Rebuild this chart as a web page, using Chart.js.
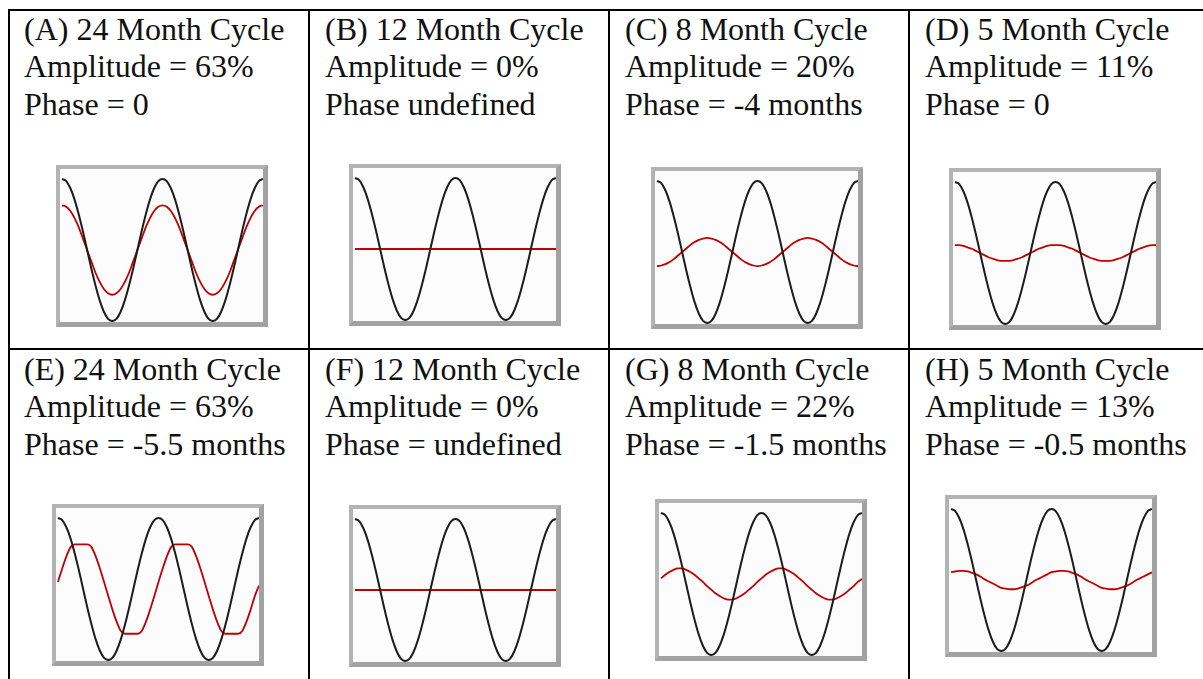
<!DOCTYPE html>
<html>
<head>
<meta charset="utf-8">
<script src="https://cdn.jsdelivr.net/npm/chart.js@4.4.1/dist/chart.umd.min.js"></script>
<style>
  html, body { margin: 0; padding: 0; background: #fff; }
  body {
    width: 1203px; height: 679px; position: relative; overflow: hidden;
    font-family: "Liberation Serif", "Times New Roman", serif;
  }
  .rule { position: absolute; background: #000; }
  .caption {
    position: absolute; font-size: 32px; line-height: 37.5px;
    color: #111; white-space: nowrap;
  }
  .frame {
    position: absolute; box-sizing: border-box; width: 212px; height: 162px;
    border-style: solid; border-width: 4px 5px 5px 4px;
    border-color: #b3b3b3 #a2a2a2 #a2a2a2 #b3b3b3;
    background: #fcfcfc;
  }
  .frame canvas { display: block; }
</style>
</head>
<body>
<script>
// Sample positions: 24 samples per cycle, two full cycles per panel
const samples = [0, 1, 2, 3, 4, 5, 6, 7, 8, 9, 10, 11, 12, 13, 14, 15, 16, 17, 18, 19, 20, 21, 22, 23,
  24, 25, 26, 27, 28, 29, 30, 31, 32, 33, 34, 35, 36, 37, 38, 39, 40, 41, 42, 43, 44, 45, 46, 47, 48];

// Reference (input) cycle, full amplitude
const inputCycle = [1, 0.97, 0.87, 0.71, 0.5, 0.26, 0, -0.26, -0.5, -0.71, -0.87, -0.97,
  -1, -0.97, -0.87, -0.71, -0.5, -0.26, 0, 0.26, 0.5, 0.71, 0.87, 0.97,
  1, 0.97, 0.87, 0.71, 0.5, 0.26, 0, -0.26, -0.5, -0.71, -0.87, -0.97,
  -1, -0.97, -0.87, -0.71, -0.5, -0.26, 0, 0.26, 0.5, 0.71, 0.87, 0.97, 1];

// Filtered responses, one per panel
const responseA = [0.63, 0.61, 0.55, 0.45, 0.32, 0.16, 0, -0.16, -0.32, -0.45, -0.55, -0.61,
  -0.63, -0.61, -0.55, -0.45, -0.32, -0.16, 0, 0.16, 0.32, 0.45, 0.55, 0.61,
  0.63, 0.61, 0.55, 0.45, 0.32, 0.16, 0, -0.16, -0.32, -0.45, -0.55, -0.61,
  -0.63, -0.61, -0.55, -0.45, -0.32, -0.16, 0, 0.16, 0.32, 0.45, 0.55, 0.61, 0.63];

const responseB = [0, 0, 0, 0, 0, 0, 0, 0, 0, 0, 0, 0,
  0, 0, 0, 0, 0, 0, 0, 0, 0, 0, 0, 0,
  0, 0, 0, 0, 0, 0, 0, 0, 0, 0, 0, 0,
  0, 0, 0, 0, 0, 0, 0, 0, 0, 0, 0, 0, 0];

const responseC = [-0.20, -0.19, -0.17, -0.14, -0.10, -0.05, 0, 0.05, 0.10, 0.14, 0.17, 0.19,
  0.20, 0.19, 0.17, 0.14, 0.10, 0.05, 0, -0.05, -0.10, -0.14, -0.17, -0.19,
  -0.20, -0.19, -0.17, -0.14, -0.10, -0.05, 0, 0.05, 0.10, 0.14, 0.17, 0.19,
  0.20, 0.19, 0.17, 0.14, 0.10, 0.05, 0, -0.05, -0.10, -0.14, -0.17, -0.19, -0.20];

const responseD = [0.11, 0.11, 0.10, 0.08, 0.06, 0.03, 0, -0.03, -0.06, -0.08, -0.10, -0.11,
  -0.11, -0.11, -0.10, -0.08, -0.06, -0.03, 0, 0.03, 0.06, 0.08, 0.10, 0.11,
  0.11, 0.11, 0.10, 0.08, 0.06, 0.03, 0, -0.03, -0.06, -0.08, -0.10, -0.11,
  -0.11, -0.11, -0.10, -0.08, -0.06, -0.03, 0, 0.03, 0.06, 0.08, 0.10, 0.11, 0.11];

const responseE = [0.10, 0.29, 0.46, 0.59, 0.63, 0.63, 0.63, 0.63, 0.59, 0.46, 0.29, 0.10,
  -0.10, -0.29, -0.46, -0.59, -0.63, -0.63, -0.63, -0.63, -0.59, -0.46, -0.29, -0.10,
  0.10, 0.29, 0.46, 0.59, 0.63, 0.63, 0.63, 0.63, 0.59, 0.46, 0.29, 0.10,
  -0.10, -0.29, -0.46, -0.59, -0.63, -0.63, -0.63, -0.63, -0.59, -0.46, -0.29, -0.10, 0.05];

const responseF = [0, 0, 0, 0, 0, 0, 0, 0, 0, 0, 0, 0,
  0, 0, 0, 0, 0, 0, 0, 0, 0, 0, 0, 0,
  0, 0, 0, 0, 0, 0, 0, 0, 0, 0, 0, 0,
  0, 0, 0, 0, 0, 0, 0, 0, 0, 0, 0, 0, 0];

const responseG = [0.08, 0.13, 0.17, 0.20, 0.22, 0.22, 0.20, 0.17, 0.13, 0.08, 0.03, -0.03,
  -0.08, -0.13, -0.17, -0.20, -0.22, -0.22, -0.20, -0.17, -0.13, -0.08, -0.03, 0.03,
  0.08, 0.13, 0.17, 0.20, 0.22, 0.22, 0.20, 0.17, 0.13, 0.08, 0.03, -0.03,
  -0.08, -0.13, -0.17, -0.20, -0.22, -0.22, -0.20, -0.17, -0.13, -0.08, -0.03, 0.03, 0.07];

const responseH = [0.11, 0.12, 0.13, 0.13, 0.12, 0.10, 0.08, 0.05, 0.01, -0.02, -0.05, -0.08,
  -0.11, -0.12, -0.13, -0.13, -0.12, -0.10, -0.08, -0.05, -0.01, 0.02, 0.05, 0.08,
  0.11, 0.12, 0.13, 0.13, 0.12, 0.10, 0.08, 0.05, 0.01, -0.02, -0.05, -0.08,
  -0.11, -0.12, -0.13, -0.13, -0.12, -0.10, -0.08, -0.05, -0.01, 0.02, 0.05, 0.08, 0.11];

// Panel captions
const panelTitles = ['(A) 24 Month Cycle', '(B) 12 Month Cycle', '(C) 8 Month Cycle', '(D) 5 Month Cycle',
  '(E) 24 Month Cycle', '(F) 12 Month Cycle', '(G) 8 Month Cycle', '(H) 5 Month Cycle'];
const amplitudeLines = ['Amplitude = 63%', 'Amplitude = 0%', 'Amplitude = 20%', 'Amplitude = 11%',
  'Amplitude = 63%', 'Amplitude = 0%', 'Amplitude = 22%', 'Amplitude = 13%'];
const phaseLines = ['Phase = 0', 'Phase undefined', 'Phase = -4 months', 'Phase = 0',
  'Phase = -5.5 months', 'Phase = undefined', 'Phase = -1.5 months', 'Phase = -0.5 months'];
const responses = [responseA, responseB, responseC, responseD, responseE, responseF, responseG, responseH];

// ---- layout ----
const cellLeft = [8, 308, 608, 908];
const rowTop = [9, 348];
const textLeft = [24, 325, 625, 925];
const textTop = [10.5, 350.5];
const frameSpots = [[56, 165], [349, 164], [651, 167], [949, 168],
                    [52, 504], [349, 505], [655, 499], [945, 495]];

function addRule(left, top, width, height) {
  const d = document.createElement('div');
  d.className = 'rule';
  Object.assign(d.style, { left: left + 'px', top: top + 'px', width: width + 'px', height: height + 'px' });
  document.body.appendChild(d);
}

// table grid
rowTop.forEach(y => addRule(8, y, 1195, 2));
cellLeft.forEach(x => addRule(x, 9, 2, 670));

responses.forEach((resp, i) => {
  const col = i % 4, row = Math.floor(i / 4);

  const cap = document.createElement('div');
  cap.className = 'caption';
  cap.style.left = textLeft[col] + 'px';
  cap.style.top = textTop[row] + 'px';
  [panelTitles[i], amplitudeLines[i], phaseLines[i]].forEach(t => {
    const line = document.createElement('div');
    line.textContent = t;
    cap.appendChild(line);
  });
  document.body.appendChild(cap);

  const frame = document.createElement('div');
  frame.className = 'frame';
  frame.style.left = frameSpots[i][0] + 'px';
  frame.style.top = frameSpots[i][1] + 'px';
  const canvas = document.createElement('canvas');
  canvas.width = 203;
  canvas.height = 153;
  canvas.style.width = '203px';
  canvas.style.height = '153px';
  frame.appendChild(canvas);
  document.body.appendChild(frame);

  new Chart(canvas, {
    type: 'line',
    data: {
      labels: samples,
      datasets: [
        { data: inputCycle, borderColor: '#1c1c1c', borderWidth: 2, pointRadius: 0,
          cubicInterpolationMode: 'monotone', clip: false, order: 0 },
        { data: resp, borderColor: '#c00000', borderWidth: (i === 1 || i === 5) ? 2 : 1.8,
          pointRadius: 0, cubicInterpolationMode: 'monotone', clip: false, order: 1 }
      ]
    },
    options: {
      responsive: false,
      animation: false,
      events: [],
      layout: { padding: 0 },
      plugins: { legend: { display: false }, tooltip: { enabled: false } },
      scales: {
        x: { type: 'linear', display: false, min: -0.48, max: 48 },
        y: { display: false, min: -1.014, max: 1.141 }
      }
    }
  });
});
</script>
</body>
</html>
